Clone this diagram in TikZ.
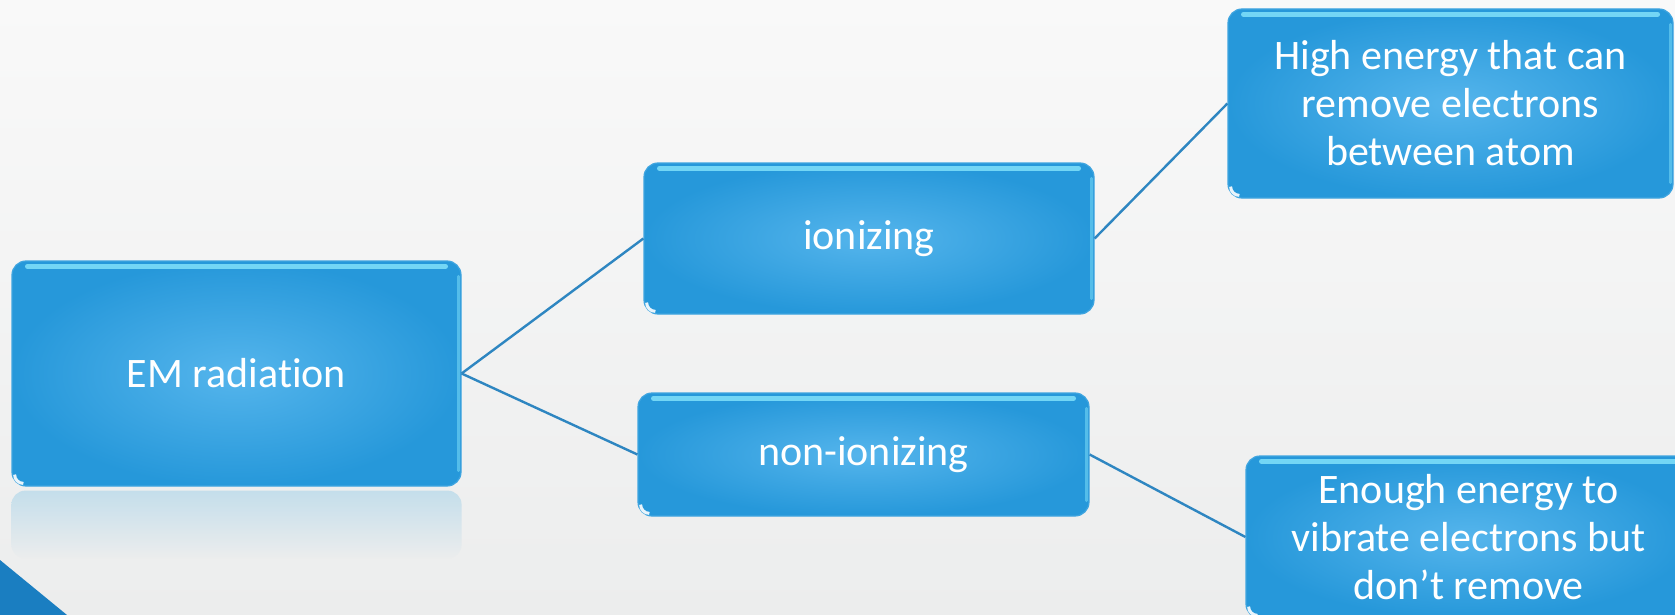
\documentclass[tikz,border=0pt]{standalone}
\usepackage{fontspec}
\setmainfont{Carlito}[Ligatures=NoCommon]
\definecolor{bgtop}{HTML}{F9F9F9}
\definecolor{bgbot}{HTML}{ECEDED}
\definecolor{reflblue}{HTML}{C4DEEB}
\definecolor{cornerblue}{HTML}{1A7EC1}
\definecolor{linkblue}{HTML}{2E86C1}
\definecolor{boxdark}{HTML}{2698DA}
\definecolor{boxlight}{HTML}{55B5EC}
\definecolor{boxedge}{HTML}{3FA5E0}
\definecolor{glosscyan}{HTML}{8DEBFF}
\begin{document}
\begin{tikzpicture}[x=0.5pt,y=-0.5pt,
  box/.style={rectangle, rounded corners=7pt, draw=boxedge, line width=0.6pt,
    inner color=boxlight, outer color=boxdark, text=white,
    font=\fontsize{21}{24}\selectfont, align=center, inner sep=0pt},
  link/.style={draw=linkblue, line width=1.2pt},
  gloss/.style={draw=glosscyan, line width=2.4pt, line cap=round, opacity=.75}]
  % page and backdrop
  \useasboundingbox (0,0) rectangle (1675,615);
  \shade[top color=bgtop, bottom color=bgbot] (0,0) rectangle (1675,615);
  \clip (0,0) rectangle (1675,615);
  \fill[cornerblue] (0,560) -- (67,615) -- (0,615) -- cycle;

  % boxes
  \node[box, minimum width=224.5pt, minimum height=112.5pt] (em) at (236.5,373.5) {EM radiation};
  \node[box, minimum width=225pt, minimum height=75.5pt] (ion) at (869,238.5) {ionizing};
  \node[box, minimum width=225.5pt, minimum height=61.5pt] (non) at (863.5,454.5) {non-ionizing};
  \node[box, minimum width=222.5pt, minimum height=94.5pt] (high) at (1450.5,103.5)
    {High energy that can\\remove electrons\\between atom};
  \node[box, minimum width=222.5pt, minimum height=81pt] (enough) at (1468.5,537)
    {Enough energy to\\vibrate electrons but\\don’t remove};

  % mirror image under the root box
  \shade[top color=reflblue, bottom color=bgbot, rounded corners=7pt]
    ([yshift=-2pt]em.south west) rectangle ([yshift=-36pt]em.south east);

  % glossy trim on every box
  \foreach \n in {em,ion,non,high,enough} {
    \draw[gloss] ([xshift=8pt,yshift=-3pt]\n.north west) -- ([xshift=-8pt,yshift=-3pt]\n.north east);
    \draw[gloss, line width=1.4pt, opacity=.45] ([xshift=-1.6pt,yshift=-8pt]\n.north east) -- ([xshift=-1.6pt,yshift=8pt]\n.south east);
    \draw[white, line width=1.5pt, opacity=.9] ([shift={(1.6pt,6pt)}]\n.south west) arc (180:270:4.4pt);
  }

  % connectors
  \draw[link] (em.east) -- (ion.west);
  \draw[link] (em.east) -- (non.west);
  \draw[link] (ion.east) -- (high.west);
  \draw[link] (non.east) -- (enough.west);
\end{tikzpicture}
\end{document}
